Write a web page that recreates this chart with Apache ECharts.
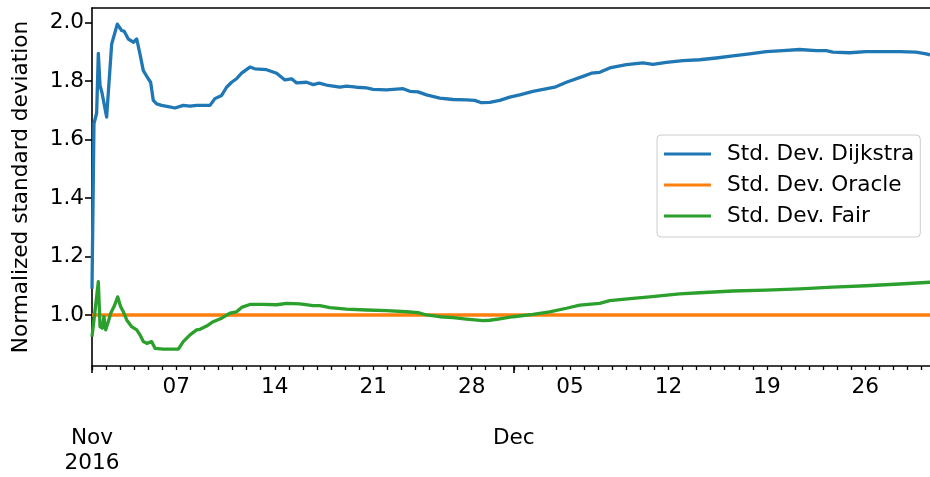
<!DOCTYPE html>
<html>
<head>
<meta charset="utf-8">
<script src="https://cdn.jsdelivr.net/npm/echarts@6/dist/echarts.min.js"></script>
<style>
  html, body { margin: 0; padding: 0; background: #ffffff; }
  #chart { width: 930px; height: 477px; }
</style>
</head>
<body>
<div id="chart"></div>
<script>
// Time is measured in days since 2016-11-01 00:00.
const startYear = 2016, startMonth = 10, startDay = 1;

const dijkstraDays = [
  0.00, 0.14, 0.33, 0.45, 0.57, 0.71, 1.04, 1.40, 1.80, 2.11, 2.30, 2.58, 2.94, 3.18,
  3.41, 3.65, 4.00, 4.17, 4.36, 4.60, 4.95, 5.42, 5.90, 6.49, 6.97, 7.44, 8.03, 8.39,
  8.74, 9.22, 9.57, 9.93, 10.28, 10.64, 11.23, 11.58, 12.42, 13.13, 13.72, 14.19, 14.55,
  15.26, 15.73, 16.16, 16.79, 17.63, 18.10, 18.81, 19.52, 19.99, 20.95, 22.13, 22.60,
  23.19, 23.79, 24.73, 25.68, 26.63, 27.22, 27.70, 28.29, 29.00, 29.71, 30.42, 31.36,
  32.91, 33.74, 34.92, 35.52, 36.11, 36.82, 38.00, 39.18, 39.89, 40.85, 42.03, 43.21,
  44.40, 45.58, 46.77, 47.95, 49.13, 50.32, 51.51, 52.22, 52.69, 53.87, 55.06, 56.24,
  57.43, 58.61, 59.32, 59.60
];
const dijkstraValues = [
  1.09, 1.655, 1.69, 1.895, 1.785, 1.76, 1.677, 1.927, 1.995, 1.973, 1.970, 1.944, 1.933, 1.944,
  1.893, 1.836, 1.808, 1.796, 1.734, 1.722, 1.717, 1.713, 1.708, 1.717, 1.714, 1.717, 1.717, 1.717,
  1.740, 1.751, 1.779, 1.796, 1.808, 1.827, 1.848, 1.842, 1.839, 1.827, 1.804, 1.808, 1.794,
  1.796, 1.788, 1.793, 1.785, 1.779, 1.783, 1.779, 1.777, 1.772, 1.770, 1.774, 1.765,
  1.763, 1.753, 1.742, 1.737, 1.736, 1.734, 1.726, 1.727, 1.734, 1.745, 1.753, 1.765,
  1.779, 1.796, 1.816, 1.827, 1.830, 1.845, 1.856, 1.862, 1.857, 1.864, 1.870, 1.873,
  1.879, 1.886, 1.893, 1.901, 1.904, 1.908, 1.904, 1.904, 1.899, 1.897, 1.901, 1.901,
  1.901, 1.899, 1.893, 1.890
];

const oracleDays = [0.00, 59.60];
const oracleValues = [1.0, 1.0];

const fairDays = [
  0.00, 0.14, 0.45, 0.57, 0.73, 0.85, 0.97, 1.16, 1.33, 1.56, 1.83, 2.04, 2.23, 2.47,
  2.82, 3.18, 3.41, 3.65, 3.89, 4.24, 4.48, 5.07, 6.14, 6.49, 6.97, 7.44, 7.68, 8.15,
  8.62, 9.22, 9.81, 10.28, 10.64, 11.23, 12.17, 13.13, 13.84, 14.78, 15.73, 16.21,
  16.92, 18.10, 19.52, 20.95, 22.37, 23.19, 23.79, 24.73, 25.68, 26.63, 27.81, 28.29,
  29.00, 29.95, 31.36, 32.55, 33.74, 34.69, 36.11, 36.82, 38.47, 39.66, 41.79, 43.21,
  45.58, 47.95, 50.32, 52.69, 55.06, 57.43, 59.60
];
const fairValues = [
  0.926, 0.983, 1.114, 0.960, 0.955, 0.994, 0.949, 0.977, 1.006, 1.028, 1.062, 1.028, 1.011, 0.983,
  0.960, 0.949, 0.932, 0.909, 0.903, 0.909, 0.886, 0.883, 0.883, 0.909, 0.932, 0.949, 0.951, 0.962,
  0.977, 0.989, 1.006, 1.011, 1.026, 1.036, 1.036, 1.035, 1.040, 1.038, 1.032, 1.032,
  1.025, 1.020, 1.017, 1.015, 1.011, 1.008, 1.000, 0.994, 0.991, 0.986, 0.981, 0.982,
  0.987, 0.994, 1.002, 1.011, 1.023, 1.034, 1.040, 1.049, 1.057, 1.062, 1.072, 1.076,
  1.082, 1.085, 1.089, 1.095, 1.100, 1.106, 1.112
];

const yTickValues = [1.0, 1.2, 1.4, 1.6, 1.8, 2.0];
const dayTickValues = Array.from({ length: 60 }, (_, i) => i);
const weekLabelDays = [6, 13, 20, 27, 34, 41, 48, 55];
const monthLabelDays = [0, 30];
const monthNames = ['Jan', 'Feb', 'Mar', 'Apr', 'May', 'Jun', 'Jul', 'Aug', 'Sep', 'Oct', 'Nov', 'Dec'];

const xMin = 0, xMax = 59.6;
const yMin = 0.8255, yMax = 2.05;

function dayToDate(d) {
  return new Date(startYear, startMonth, startDay + Math.round(d));
}
function zip(xs, ys) { return xs.map((x, i) => [x, ys[i]]); }

const FONT = 'DejaVu Sans';
const FS = 21.6;
const LW = 3.3;
const AXIS_COLOR = '#000000';

const chart = echarts.init(document.getElementById('chart'), null, { renderer: 'canvas' });

chart.setOption({
  animation: false,
  backgroundColor: '#ffffff',
  textStyle: { fontFamily: FONT },
  grid: { left: 92, right: 0, top: 8, bottom: 111, containLabel: false },
  legend: {
    orient: 'vertical',
    left: 657,
    top: 135,
    icon: 'rect',
    itemWidth: 47,
    itemHeight: 3,
    itemGap: 7,
    padding: [7, 6, 9, 7],
    backgroundColor: '#ffffff',
    borderColor: '#cccccc',
    borderWidth: 1,
    borderRadius: 4,
    textStyle: { fontFamily: FONT, fontSize: FS, color: '#000000', padding: [0, 0, 0, 11], lineHeight: 24 },
    data: ['Std. Dev. Dijkstra', 'Std. Dev. Oracle', 'Std. Dev. Fair']
  },
  xAxis: [
    {
      type: 'value', min: xMin, max: xMax, position: 'bottom', offset: 0,
      axisLine: { show: true, onZero: false, lineStyle: { color: AXIS_COLOR, width: 1.6 } },
      axisTick: { show: true, customValues: dayTickValues, length: 4, lineStyle: { color: AXIS_COLOR, width: 1.3 } },
      axisLabel: {
        show: true, customValues: weekLabelDays, margin: 10,
        fontFamily: FONT, fontSize: FS, color: '#000000',
        formatter: v => String(dayToDate(v).getDate()).padStart(2, '0')
      },
      splitLine: { show: false }
    },
    {
      type: 'value', min: xMin, max: xMax, position: 'bottom', offset: 0,
      axisLine: { show: false, onZero: false },
      axisTick: { show: true, customValues: monthLabelDays, length: 7, lineStyle: { color: AXIS_COLOR, width: 1.6 } },
      axisLabel: {
        show: true, customValues: monthLabelDays, margin: 60, lineHeight: 25,
        fontFamily: FONT, fontSize: FS, color: '#000000',
        formatter: v => {
          const d = dayToDate(v);
          const m = monthNames[d.getMonth()];
          return Math.round(v) === 0 ? m + '\n' + d.getFullYear() : m;
        }
      },
      splitLine: { show: false }
    },
    {
      type: 'value', min: xMin, max: xMax, position: 'top', offset: 0,
      axisLine: { show: true, onZero: false, lineStyle: { color: AXIS_COLOR, width: 1.6 } },
      axisTick: { show: false },
      axisLabel: { show: false },
      splitLine: { show: false }
    }
  ],
  yAxis: {
    type: 'value', min: yMin, max: yMax,
    name: 'Normalized standard deviation',
    nameLocation: 'middle',
    nameGap: 60,
    nameRotate: 90,
    nameTextStyle: { fontFamily: FONT, fontSize: FS, color: '#000000' },
    axisLine: { show: true, onZero: false, lineStyle: { color: AXIS_COLOR, width: 1.6 } },
    axisTick: { show: true, customValues: yTickValues, length: 7, lineStyle: { color: AXIS_COLOR, width: 1.6 } },
    axisLabel: {
      show: true, customValues: yTickValues, margin: 8,
      fontFamily: FONT, fontSize: FS, color: '#000000',
      formatter: v => v.toFixed(1)
    },
    splitLine: { show: false }
  },
  series: [
    {
      name: 'Std. Dev. Dijkstra', type: 'line', xAxisIndex: 0, yAxisIndex: 0,
      showSymbol: false, symbol: 'none', color: '#1f77b4',
      lineStyle: { width: LW, color: '#1f77b4', join: 'round' },
      data: zip(dijkstraDays, dijkstraValues)
    },
    {
      name: 'Std. Dev. Oracle', type: 'line', xAxisIndex: 0, yAxisIndex: 0,
      showSymbol: false, symbol: 'none', color: '#ff7f0e',
      lineStyle: { width: LW, color: '#ff7f0e' },
      data: zip(oracleDays, oracleValues)
    },
    {
      name: 'Std. Dev. Fair', type: 'line', xAxisIndex: 0, yAxisIndex: 0,
      showSymbol: false, symbol: 'none', color: '#2ca02c',
      lineStyle: { width: LW, color: '#2ca02c', join: 'round' },
      data: zip(fairDays, fairValues)
    }
  ]
});
</script>
</body>
</html>
